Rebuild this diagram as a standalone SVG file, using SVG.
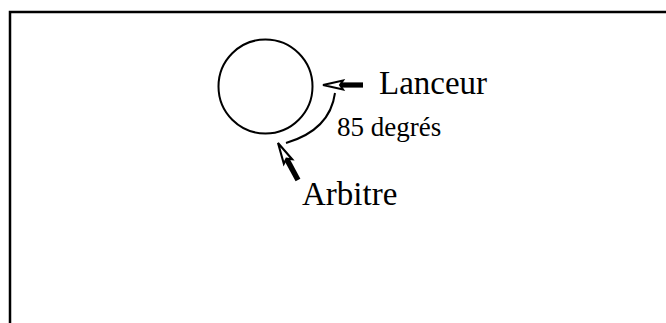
<svg xmlns="http://www.w3.org/2000/svg" width="666" height="323" viewBox="0 0 666 323">
<style>
.t{font-family:"Liberation Serif","Times New Roman",serif;fill:#000}
.ln{fill:none;stroke:#000;stroke-width:2}
.hd{fill:#fff;stroke:#000;stroke-width:2;stroke-linejoin:miter}
</style>
<defs>
<g id="arrowShape">
<rect x="18" y="-2.6" width="22" height="5.2" fill="#000"/>
<polygon class="hd" points="0,0 20,-4.5 17,0 20,4.5"/>
</g>
</defs>
<rect width="666" height="323" fill="#fff"/>
<path d="M10,323 V12 H666" fill="none" stroke="#000" stroke-width="2.5"/>
<g id="circle"><circle cx="265.5" cy="86.5" r="47" class="ln"/></g>
<g id="connectors">
<path d="M335,93 Q330,130 286,143" class="ln"/>
<use href="#arrowShape" transform="translate(323,85)"/>
<use href="#arrowShape" transform="translate(278,143) rotate(61.6) scale(1.05)"/>
</g>
<g id="lanceur"><text class="t" x="379" y="94" font-size="33">Lanceur</text></g>
<g id="angle"><text class="t" x="337" y="136" font-size="27">85 degrés</text></g>
<g id="arbitre"><text class="t" x="302" y="205" font-size="33">Arbitre</text></g>
</svg>
